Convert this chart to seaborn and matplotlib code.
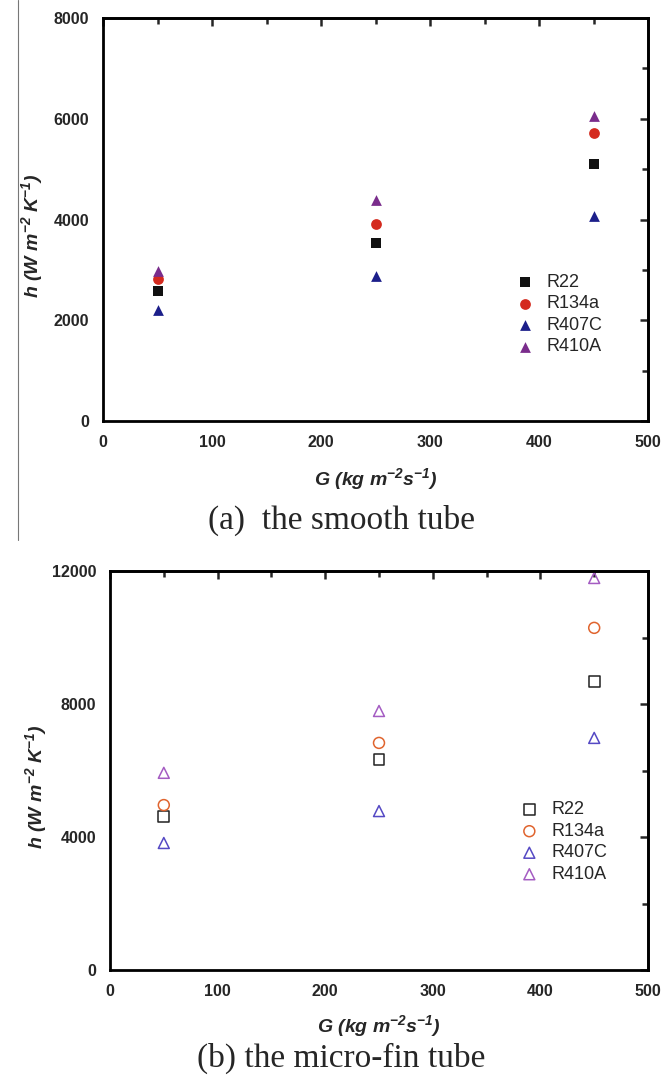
import matplotlib
matplotlib.use("Agg")
import matplotlib.pyplot as plt
import seaborn as sns
import pandas as pd
from matplotlib.lines import Line2D
from matplotlib.ticker import MultipleLocator

G = [50, 250, 450]
refrigerants = ["R22", "R134a", "R407C", "R410A"]

# (a) smooth tube
h_smooth_R22 = [2580, 3540, 5100]
h_smooth_R134a = [2820, 3920, 5710]
h_smooth_R407C = [2200, 2870, 4060]
h_smooth_R410A = [2980, 4380, 6060]

# (b) micro-fin tube
h_fin_R22 = [4630, 6320, 8690]
h_fin_R134a = [4960, 6830, 10290]
h_fin_R407C = [3820, 4780, 6980]
h_fin_R410A = [5930, 7790, 11790]

markers = ["s", "o", "^", "^"]
colors_a = ["#111111", "#d42a1e", "#1c1f8a", "#7a2d8c"]
colors_b = ["#222222", "#e0642e", "#5549c4", "#a45cc2"]

sns.set_theme(style="white")
plt.rcParams["font.family"] = ["Liberation Sans", "DejaVu Sans"]
plt.rcParams["mathtext.default"] = "regular"

fig = plt.figure(figsize=(6.62, 10.76), dpi=100)
ax1 = fig.add_axes([103/662, 1-421/1076, (648-103)/662, (421-18)/1076])
ax2 = fig.add_axes([110/662, 1-970/1076, (648-110)/662, (970-571)/1076])


def draw(ax, series, colors, filled, ymax, ymajor, yminor, leg_anchor, ylab_x, xpad):
    for name, vals, m, c in zip(refrigerants, series, markers, colors):
        df = pd.DataFrame({"G": G, "h": vals})
        sns.scatterplot(data=df, x="G", y="h", marker=m, s=60 if filled else 62,
                        color=c, edgecolor=c, linewidth=0 if filled else 1.1,
                        label=name, ax=ax, legend=False)
        if not filled:
            ax.collections[-1].set_facecolor("none")
    ax.set_xlim(0, 500)
    ax.set_ylim(0, ymax)
    for axis, maj, mnr in ((ax.xaxis, 100, 50), (ax.yaxis, ymajor, yminor)):
        axis.set_major_locator(MultipleLocator(maj))
        axis.set_minor_locator(MultipleLocator(mnr))
    for sp in ax.spines.values():
        sp.set_linewidth(2.0)
        sp.set_color("black")
    ax.tick_params(which="both", direction="out", width=1.8, labelsize=11.5, pad=4)
    ax.tick_params(which="major", length=6)
    ax.tick_params(which="minor", length=4)
    for lab in ax.get_xticklabels() + ax.get_yticklabels():
        lab.set_fontweight("bold")

    # inward ticks on top and right
    top = ax.secondary_xaxis("top")
    top.xaxis.set_major_locator(MultipleLocator(100))
    top.xaxis.set_minor_locator(MultipleLocator(50))
    top.tick_params(which="both", direction="in", width=1.8, labeltop=False)
    top.tick_params(which="major", length=6)
    top.tick_params(which="minor", length=4)
    right = ax.secondary_yaxis("right")
    right.yaxis.set_major_locator(MultipleLocator(ymajor))
    right.yaxis.set_minor_locator(MultipleLocator(yminor))
    right.tick_params(which="both", direction="in", width=1.8, labelright=False)
    right.tick_params(which="major", length=6)
    right.tick_params(which="minor", length=4)
    for s in (top, right):
        for sp in s.spines.values():
            sp.set_linewidth(2.0)

    ax.set_xlabel(r"G (kg m$^{-2}$s$^{-1}$)", fontsize=14, fontweight="bold",
                  fontstyle="italic", labelpad=xpad)
    ax.set_ylabel(r"h (W m$^{-2}$ K$^{-1}$)", fontsize=14, fontweight="bold",
                  fontstyle="italic")
    ax.yaxis.set_label_coords(ylab_x, 0.46)
    leg = ax.legend(loc="lower right", bbox_to_anchor=leg_anchor, frameon=False,
                    fontsize=13, handletextpad=0.6, labelspacing=0.25,
                    borderaxespad=0, handlelength=1.2)
    return leg


draw(ax1, [h_smooth_R22, h_smooth_R134a, h_smooth_R407C, h_smooth_R410A],
     colors_a, True, 8000, 2000, 1000, (0.93, 0.145), -0.106, 12)
draw(ax2, [h_fin_R22, h_fin_R134a, h_fin_R407C, h_fin_R410A],
     colors_b, False, 12000, 4000, 2000, (0.937, 0.2), -0.114, 10)

fig.text(341/662, 1-520/1076, "(a)  the smooth tube", ha="center", va="center",
         fontsize=24, family=["Liberation Serif", "DejaVu Serif"])
fig.text(341/662, 1-1058/1076, "(b) the micro-fin tube", ha="center", va="center",
         fontsize=24, family=["Liberation Serif", "DejaVu Serif"])

fig.add_artist(Line2D([18/662, 18/662], [1-540/1076, 1], color="#777777", lw=0.8))

fig.savefig("out.png", dpi=100)
